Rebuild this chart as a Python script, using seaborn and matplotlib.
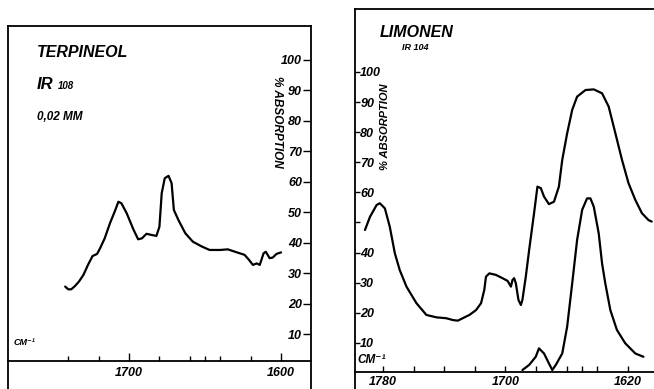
import matplotlib
matplotlib.use('Agg')
import matplotlib.pyplot as plt
from matplotlib import font_manager
import seaborn as sns
import pandas as pd

# Terpineol, IR 108, 0,02 mm
terp_wavenumber = [1742, 1740, 1738, 1735.5, 1733, 1730, 1727, 1724, 1721, 1719,
                   1716, 1712.5, 1709, 1707, 1705, 1701.5, 1697, 1694, 1691.5, 1688.5,
                   1685, 1682, 1680, 1678.5, 1676.5, 1674, 1672, 1670.5, 1667.5, 1663,
                   1658, 1652, 1647, 1640, 1635, 1629, 1624, 1621, 1618.5, 1616,
                   1614, 1611.5, 1610, 1607.5, 1605.5, 1603, 1600]
terp_absorption = [25.7, 24.8, 24.8, 25.9, 27.3, 29.5, 32.8, 35.7, 36.4, 38.3,
                   41.5, 46.5, 50.8, 53.5, 53, 49.7, 44.3, 41.2, 41.5, 43,
                   42.6, 42.3, 45.3, 56.3, 61.2, 62, 59.6, 50.8, 47.5, 43.2,
                   40.4, 38.8, 37.7, 37.7, 37.9, 36.9, 36.1, 34.4, 32.8, 33.3,
                   32.8, 36.6, 37.1, 35, 35.2, 36.4, 36.9]

# Limonen, IR 104 - upper trace
lim_wavenumber = [1791.7, 1788.4, 1784.1, 1782, 1778.7, 1775.5, 1772.2, 1769, 1764.6, 1758.1,
                  1751.6, 1745.1, 1738.6, 1734.3, 1731.1, 1727.9, 1723.5, 1719.2, 1715.9, 1713.8,
                  1712.7, 1710.5, 1706.2, 1701.9, 1698.6, 1696.4, 1695.4, 1694.3, 1693.2, 1691.5,
                  1689.9, 1688.9, 1686.7, 1684.5, 1681.3, 1679.1, 1676.9, 1674.8, 1671.6, 1668.3,
                  1665.1, 1662.9, 1659.7, 1656.4, 1653.2, 1647.7, 1642.3, 1636.9, 1632.6, 1628.2,
                  1623.9, 1619.6, 1615.2, 1610.9, 1606.6, 1604.5]
lim_absorption = [47.5, 51.9, 55.8, 56.4, 54.7, 48.6, 39.8, 34.2, 28.7, 23.2,
                  19.3, 18.5, 18.2, 17.6, 17.4, 18.2, 19.3, 20.9, 23.2, 27.6,
                  32, 33.1, 32.6, 31.5, 30.6, 28.7, 30.9, 31.5, 29.8, 24.3,
                  22.6, 24.3, 32, 40.9, 53.1, 61.9, 61.4, 58.6, 56.1, 56.9,
                  61.9, 70.8, 79.6, 87.4, 91.8, 94, 94.2, 92.9, 88.5, 79.6,
                  70.8, 63, 57.5, 53.1, 50.8, 50.3]

# Limonen - lower trace
lim_low_wavenumber = [1688.9, 1684.5, 1680.2, 1678.1, 1674.8, 1671.6, 1669.4, 1667.1, 1662.9, 1659.7,
                      1656.4, 1653.2, 1649.9, 1646.7, 1644.5, 1642.3, 1639.1, 1636.9, 1634.8, 1631.5,
                      1627.2, 1621.8, 1615.2, 1609.9]
lim_low_absorption = [1, 2.7, 5.4, 8.2, 6.5, 3.2, 1, 2.7, 6.5, 15.4,
                      29.8, 44.2, 54.2, 58, 58, 55.2, 46.4, 36.4, 29.8, 20.9,
                      14.3, 9.9, 6.5, 5.4]

# axis ticks
terp_major_x = [1700, 1600]
terp_minor_x = [1740, 1720, 1680, 1660, 1650, 1640, 1620]
lim_major_x = [1780, 1700, 1620]
lim_minor_x = [1760, 1740, 1720, 1680, 1660, 1650, 1640]
y_ticks = [10, 20, 30, 40, 50, 60, 70, 80, 90, 100]
terp_y_labels = ['10', '20', '30', '40', '50', '60', '70', '80', '90', '100']
lim_y_labels = ['10', '20', '30', '40', '', '60', '70', '80', '90', '100']

sns.set_theme(style='white')
plt.rcParams['font.family'] = ['Liberation Sans', 'DejaVu Sans']
plt.rcParams['text.color'] = 'black'
plt.rcParams['xtick.color'] = 'black'
plt.rcParams['ytick.color'] = 'black'


def fprop(size):
    return font_manager.FontProperties(family=['Liberation Sans', 'DejaVu Sans'], style='italic',
                                       weight='bold', size=size)


tick_fp = fprop(9)
title_fp = fprop(11.5)
LW = 1.6

fig = plt.figure(figsize=(6.54, 3.89), dpi=100)
ax1 = fig.add_axes([8 / 654, 0, 303 / 654, 363 / 389])
ax2 = fig.add_axes([355 / 654, 0, 299 / 654, 380 / 389])

terp = pd.DataFrame({'wavenumber': terp_wavenumber, 'absorption': terp_absorption})
lim = pd.DataFrame({'wavenumber': lim_wavenumber, 'absorption': lim_absorption})
lim_low = pd.DataFrame({'wavenumber': lim_low_wavenumber, 'absorption': lim_low_absorption})

sns.lineplot(data=terp, x='wavenumber', y='absorption', sort=False, estimator=None,
             color='black', lw=LW, ax=ax1)
sns.lineplot(data=lim, x='wavenumber', y='absorption', sort=False, estimator=None,
             color='black', lw=LW, ax=ax2)
sns.lineplot(data=lim_low, x='wavenumber', y='absorption', sort=False, estimator=None,
             color='black', lw=LW, ax=ax2)

for ax in (ax1, ax2):
    ax.set_xlabel('')
    ax.set_ylabel('')
    ax.set_facecolor('white')
    for sp in ax.spines.values():
        sp.set_color('black')
        sp.set_linewidth(1.3)

# --- Terpineol panel ---
ax1.set_xlim(1779.6, 1580.3)
ax1.set_ylim(-7.87, 111.1)
ax1.spines['bottom'].set_position(('data', 1.31))
ax1.set_xticks(terp_major_x)
ax1.set_xticks(terp_minor_x, minor=True)
ax1.set_xticklabels([str(v) for v in terp_major_x], fontproperties=tick_fp)
ax1.tick_params(axis='x', which='major', direction='in', length=6, width=1,
                color='black', pad=4, bottom=True)
ax1.tick_params(axis='x', which='minor', direction='in', length=3.5, width=1,
                color='black', bottom=True)
ax1.yaxis.tick_right()
ax1.set_yticks(y_ticks)
ax1.set_yticklabels(terp_y_labels, fontproperties=tick_fp)
ax1.tick_params(axis='y', direction='in', length=6, width=1, color='black',
                pad=-6.5, right=True, left=False)
for lab in ax1.get_yticklabels():
    lab.set_ha('right')

ax1.text(0.096, 0.926, 'TERPINEOL', transform=ax1.transAxes, fontproperties=title_fp, va='center')
ax1.text(0.096, 0.826, 'IR', transform=ax1.transAxes, fontproperties=fprop(12), va='baseline')
ax1.text(0.165, 0.826, '108', transform=ax1.transAxes, fontproperties=fprop(7), va='baseline')
ax1.text(0.096, 0.749, '0,02 MM', transform=ax1.transAxes, fontproperties=fprop(8.5), va='center')
ax1.text(0.888, 0.736, '% ABSORPTION', transform=ax1.transAxes, fontproperties=fprop(8.5),
         rotation=270, ha='center', va='center')
ax1.text(0.017, 0.127, 'CM⁻¹', transform=ax1.transAxes, fontproperties=fprop(6.5), va='center')

# --- Limonen panel ---
ax2.set_xlim(1798.2, 1603.0)
ax2.set_ylim(-5.3, 120.9)
ax2.spines['bottom'].set_position(('data', 0.33))
ax2.spines['right'].set_visible(False)
ax2.set_xticks(lim_major_x)
ax2.set_xticks(lim_minor_x, minor=True)
ax2.set_xticklabels([str(v) for v in lim_major_x], fontproperties=tick_fp)
ax2.tick_params(axis='x', which='major', direction='in', length=4, width=1,
                color='black', pad=2.5, bottom=True)
ax2.tick_params(axis='x', which='minor', direction='in', length=4, width=1,
                color='black', bottom=True)
ax2.set_yticks(y_ticks)
ax2.set_yticklabels(lim_y_labels, fontproperties=tick_fp)
ax2.tick_params(axis='y', direction='in', length=3.5, width=1, color='black',
                pad=-3.8, left=True)
for lab in ax2.get_yticklabels():
    lab.set_ha('left')

ax2.text(0.084, 0.937, 'LIMONEN', transform=ax2.transAxes, fontproperties=title_fp, va='center')
ax2.text(0.157, 0.900, 'IR 104', transform=ax2.transAxes, fontproperties=fprop(6.5), va='center')
ax2.text(0.100, 0.689, '% ABSORPTION', transform=ax2.transAxes, fontproperties=fprop(8),
         rotation=90, ha='center', va='center')
ax2.text(0.007, 0.076, 'CM⁻¹', transform=ax2.transAxes, fontproperties=fprop(8.5), va='center')

fig.savefig('out.png', dpi=100, facecolor='white')
